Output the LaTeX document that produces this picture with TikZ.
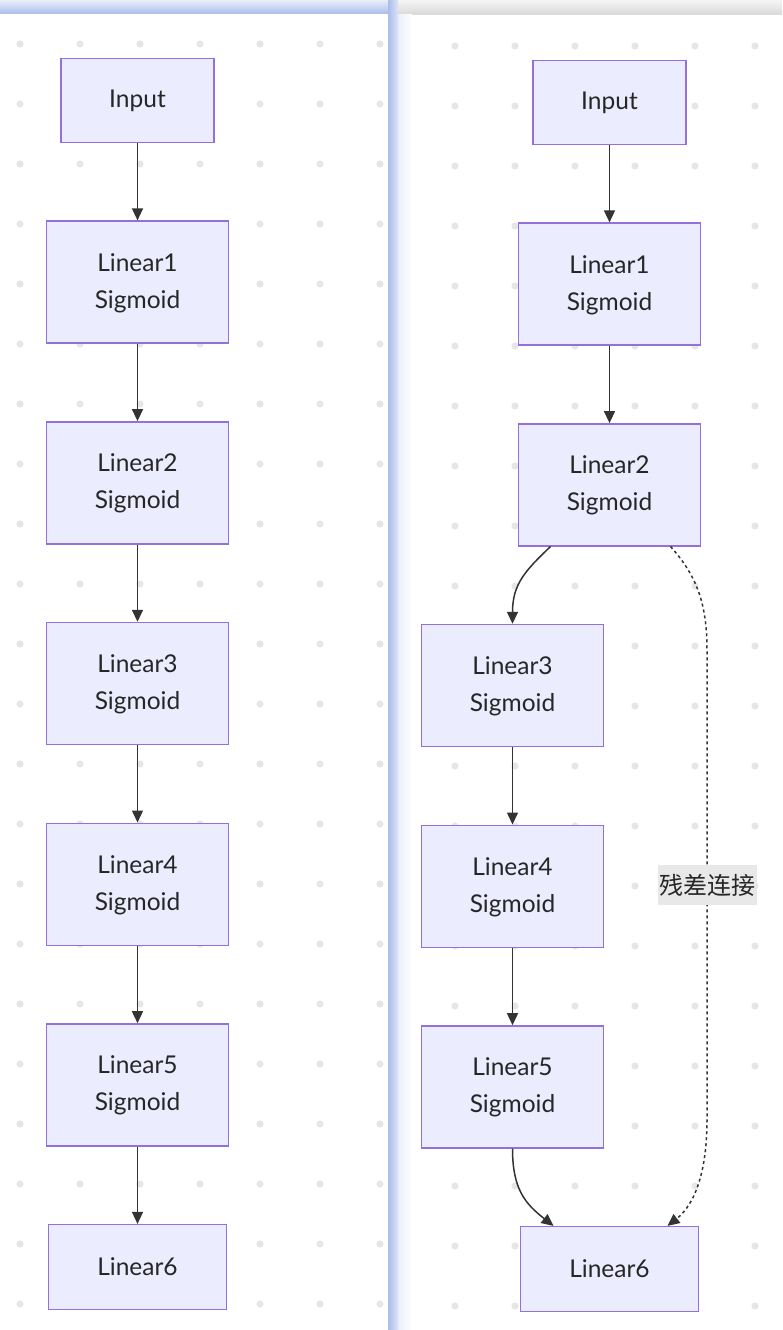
\documentclass[tikz,border=0pt]{standalone}
\usepackage{fontspec}
\setmainfont{Lato}
\newfontfamily\cjk{Noto Sans CJK SC}
\usepackage{tikz}
\usetikzlibrary{matrix,arrows.meta}

\definecolor{boxfill}{HTML}{ECECFF}
\definecolor{boxline}{HTML}{9370DB}
\definecolor{edgeline}{HTML}{333333}
\definecolor{txtgray}{HTML}{262626}
\definecolor{dotgray}{HTML}{E6E6E6}
\definecolor{lblgray}{HTML}{E8E8E8}
\definecolor{barblue}{HTML}{AABCEC}

\newcommand{\layertxt}[1]{\begin{tabular}{@{}c@{}}Linear#1\\Sigmoid\end{tabular}}

\tikzset{
  layer/.style={draw=boxline, fill=boxfill, line width=1.4pt, text=txtgray,
    anchor=center, inner sep=0pt, minimum width=182pt,
    minimum height=122pt, font=\fontsize{24.5}{37}\selectfont},
  inbox/.style={layer, minimum width=153pt, minimum height=84pt},
  outbox/.style={layer, minimum width=178pt, minimum height=85pt},
  flow/.style={draw=edgeline, line width=1.5pt, -{Triangle[length=12pt,width=11pt]}},
  skip/.style={flow, dash pattern=on 3pt off 3pt},
  lbl/.style={fill=lblgray, text=txtgray, font=\cjk\fontsize{24}{24}\selectfont,
    inner xsep=1.5pt, inner ysep=0pt, minimum height=40pt, anchor=center},
}

\begin{document}
\begin{tikzpicture}[x=1pt,y=-1pt]
\useasboundingbox (0,0) rectangle (782,1330);
% dotted grid of the two panels
\foreach \i in {0,...,6} \foreach \j in {0,...,21}
  \fill[dotgray] (20+60*\i,44+60*\j) circle (3.6pt);
\foreach \i in {0,...,5} \foreach \j in {0,...,21}
  \fill[dotgray] (455+60*\i,46+60*\j) circle (3.6pt);
% panel edges
\shade[top color=barblue!25, bottom color=barblue] (0,0) rectangle (388,14);
\shade[top color=gray!8, bottom color=gray!30] (398,0) rectangle (782,15);
\shade[left color=barblue, right color=barblue!40] (388,0) rectangle (398,1330);
\shade[left color=barblue!25, right color=white] (398,15) rectangle (412,1330);

% plain network
\matrix (lm) [matrix of nodes, row sep=77.3pt, inner sep=0pt, nodes={layer},
  anchor=north] at (137.5,57.5) {
|[inbox]| Input \\
\layertxt{1} \\
\layertxt{2} \\
\layertxt{3} \\
\layertxt{4} \\
\layertxt{5} \\
|[outbox]| Linear6 \\
};
\foreach \a/\b in {1/2,2/3,3/4,4/5,5/6,6/7}
  \draw[flow] (lm-\a-1) -- (lm-\b-1);

% residual network
\matrix (rm) [matrix of nodes, row sep=77.3pt, column sep=-86.4pt, inner sep=0pt,
  nodes={layer}, anchor=north] at (561,59.5) {
& |[inbox]| Input \\
& \layertxt{1} \\
& \layertxt{2} \\
\layertxt{3} & \\
\layertxt{4} & \\
\layertxt{5} & \\
& |[outbox]| Linear6 \\
};
\draw[flow] (rm-1-2) -- (rm-2-2);
\draw[flow] (rm-2-2) -- (rm-3-2);
\draw[flow] ([xshift=-59pt]rm-3-2.south) .. controls +(-25,24) and +(0,-40) .. (rm-4-1.north);
\draw[flow] (rm-4-1) -- (rm-5-1);
\draw[flow] (rm-5-1) -- (rm-6-1);
\draw[flow] (rm-6-1.south) .. controls +(0,41) and +(-28,-22) .. ([xshift=-56pt]rm-7-2.north);
\draw[skip] ([xshift=61pt]rm-3-2.south) .. controls +(27,30) and +(0,-45) .. (707,650)
  -- node[lbl] {残差连接} (707,1120)
  .. controls +(0,50) and +(28,-22) .. ([xshift=58pt]rm-7-2.north);
\end{tikzpicture}
\end{document}
